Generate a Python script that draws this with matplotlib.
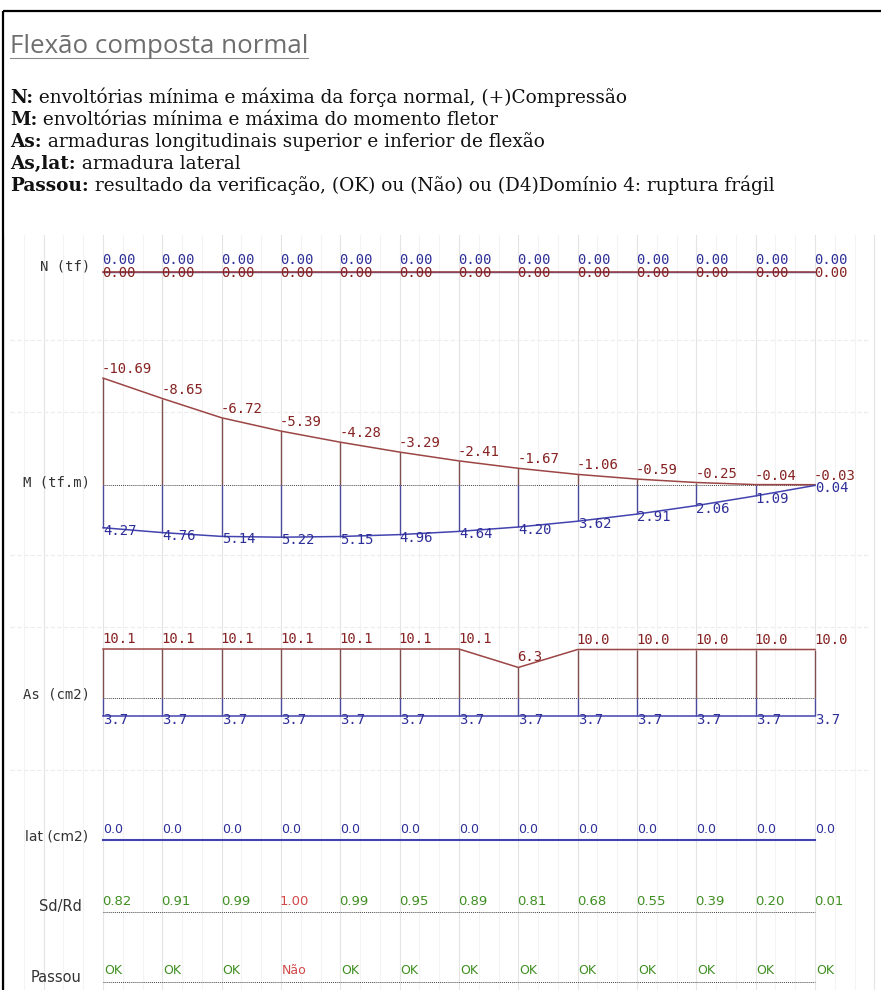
import matplotlib
matplotlib.use('Agg')
import matplotlib.pyplot as plt
import numpy as np

# Dimensões da figura (px)
W, H = 881, 990
DPI = 100
PT = 72 / DPI  # px -> pontos

# Dados por seção (13 seções ao longo da viga)
estacoes = np.arange(13)
n_max = [0.00, 0.00, 0.00, 0.00, 0.00, 0.00, 0.00, 0.00, 0.00, 0.00, 0.00, 0.00, 0.00]
n_min = [0.00, 0.00, 0.00, 0.00, 0.00, 0.00, 0.00, 0.00, 0.00, 0.00, 0.00, 0.00, 0.00]
m_neg = [-10.69, -8.65, -6.72, -5.39, -4.28, -3.29, -2.41, -1.67, -1.06, -0.59, -0.25, -0.04, -0.03]
m_pos = [4.27, 4.76, 5.14, 5.22, 5.15, 4.96, 4.64, 4.20, 3.62, 2.91, 2.06, 1.09, 0.04]
as_sup = [10.1, 10.1, 10.1, 10.1, 10.1, 10.1, 10.1, 6.3, 10.0, 10.0, 10.0, 10.0, 10.0]
as_inf = [3.7, 3.7, 3.7, 3.7, 3.7, 3.7, 3.7, 3.7, 3.7, 3.7, 3.7, 3.7, 3.7]
as_lat = [0.0, 0.0, 0.0, 0.0, 0.0, 0.0, 0.0, 0.0, 0.0, 0.0, 0.0, 0.0, 0.0]
sd_rd = [0.82, 0.91, 0.99, 1.00, 0.99, 0.95, 0.89, 0.81, 0.68, 0.55, 0.39, 0.20, 0.01]
passou = ['OK', 'OK', 'OK', 'Não', 'OK', 'OK', 'OK', 'OK', 'OK', 'OK', 'OK', 'OK', 'OK']

titulo = 'Flexão composta normal'
legenda = [
    ('N:', ' envoltórias mínima e máxima da força normal, (+)Compressão'),
    ('M:', ' envoltórias mínima e máxima do momento fletor'),
    ('As:', ' armaduras longitudinais superior e inferior de flexão'),
    ('As,lat:', ' armadura lateral'),
    ('Passou:', ' resultado da verificação, (OK) ou (Não) ou (D4)Domínio 4: ruptura frágil'),
]

# Cores
VERM = '#9c4545'
VERM_TXT = '#862222'
AZUL = '#4343b0'
AZUL_TXT = '#2e2e99'
VERDE = '#3f8f22'
VERM_CLARO = '#d04848'
MONO = 'DejaVu Sans Mono'

# posição horizontal das seções em px
X0 = 103
DX = 712 / 12

fig = plt.figure(figsize=(W / DPI, H / DPI), dpi=DPI)
fig.patch.set_facecolor('white')
renderer = fig.canvas.get_renderer()


def eixo_linha(y_top, y_bot, y_zero, px_unid, z=3):
    # valor v fica em y_zero + v*px_unid (px, para baixo)
    ax = fig.add_axes([0, 1 - y_bot / H, 1, (y_bot - y_top) / H])
    ax.set_xlim(-X0 / DX, (W - X0) / DX)
    ax.set_ylim((y_bot - y_zero) / px_unid, -(y_zero - y_top) / px_unid)
    ax.axis('off')
    ax.set_zorder(z)
    return ax


def rotulo(ax, x, y, txt, cor, dy_px, dx_px=0, fam=MONO, tam=10):
    ax.annotate(txt, (x, y), xytext=(dx_px * PT, -dy_px * PT), textcoords='offset points',
                ha='left', va='baseline', color=cor, fontsize=tam, family=fam,
                annotation_clip=False)


def linha_zero(ax):
    ax.hlines(0, estacoes[0], estacoes[-1], colors='#444444', linestyles=(0, (1, 1)), lw=0.7)


# Grade de fundo suave (atrás de tudo)
grade = eixo_linha(235, H, 600, 1, z=0)
for i in np.arange(-2, 14):
    grade.axvline(i, color='#e4e4e4', lw=0.8, zorder=0)
    grade.axvline(i + 1 / 3, color='#f3f3f3', lw=0.8, zorder=0)
    grade.axvline(i + 2 / 3, color='#f3f3f3', lw=0.8, zorder=0)

# Eixo de fundo em coordenadas de pixel (moldura, textos)
fundo = fig.add_axes([0, 0, 1, 1])
fundo.set_xlim(0, W)
fundo.set_ylim(H, 0)
fundo.axis('off')
fundo.set_zorder(1)

for yy in [340, 412, 555, 627, 770]:
    fundo.plot([10, 870], [yy, yy], color='#ececec', lw=0.8, ls=(0, (4, 2)), zorder=0)

# Moldura
fundo.plot([3, 3], [11, H], color='black', lw=1.6, solid_capstyle='butt')
fundo.plot([3, W], [11, 11], color='black', lw=1.6, solid_capstyle='butt')

# Título sublinhado
t = fundo.text(10, 53, titulo, fontsize=10, family='Open Sans', color='#6e6e6e', va='baseline')
t.set_fontsize(10 * 297 / t.get_window_extent(renderer).width)
larg = t.get_window_extent(renderer).width
fundo.plot([10, 10 + larg], [58, 58], color='#8a8a8a', lw=0.8)

# Legenda (chave em negrito + descrição)
tam_leg = 13.3
y_leg = 103
for chave, desc in legenda:
    t1 = fundo.text(10, y_leg, chave, fontsize=tam_leg, family='DejaVu Serif',
                    weight='bold', color='#111111', va='baseline')
    w1 = t1.get_window_extent(renderer).width
    fundo.text(10 + w1, y_leg, desc, fontsize=tam_leg, family='DejaVu Serif',
               color='#111111', va='baseline')
    y_leg += 22

# Rótulos das linhas
fundo.text(90, 267, 'N (tf)', family=MONO, fontsize=10, ha='right', va='center', color='#333333')
fundo.text(90, 482, 'M (tf.m)', family=MONO, fontsize=10, ha='right', va='center', color='#333333')
fundo.text(90, 694, 'As (cm2)', family=MONO, fontsize=10, ha='right', va='center', color='#333333')
fundo.text(88, 837, 'lat (cm2)', family='DejaVu Sans', fontsize=10, ha='right', va='center', color='#333333')
fundo.text(82, 907, 'Sd/Rd', family='DejaVu Sans', fontsize=10.5, ha='right', va='center', color='#333333')
fundo.text(82, 978, 'Passou', family='DejaVu Sans', fontsize=10.5, ha='right', va='center', color='#333333')

# N
ax_n = eixo_linha(240, 300, 272, 1)
linha_zero(ax_n)
ax_n.plot(estacoes, n_max, color=AZUL, lw=1.0)
ax_n.plot(estacoes, n_min, color=VERM, lw=1.2)
for i in estacoes:
    rotulo(ax_n, i, n_max[i], f'{n_max[i]:.2f}', AZUL_TXT, -8, -1)
    rotulo(ax_n, i, n_min[i], f'{n_min[i]:.2f}', VERM_TXT, 5, -1)

# M
ax_m = eixo_linha(340, 600, 485, 10)
linha_zero(ax_m)
ax_m.vlines(estacoes, m_neg, 0, color='#7e4f4f', lw=1.0)
ax_m.vlines(estacoes, 0, m_pos, color='#4b4b9e', lw=1.0)
ax_m.plot(estacoes, m_neg, color=VERM, lw=1.1)
ax_m.plot(estacoes, m_pos, color=AZUL, lw=1.1)
for i in estacoes:
    rotulo(ax_m, i, m_neg[i], f'{m_neg[i]:.2f}', VERM_TXT, -5, -1)
    rotulo(ax_m, i, m_pos[i], f'{m_pos[i]:.2f}', AZUL_TXT, 7, 0)

# As (superior para cima, inferior para baixo)
ax_as = eixo_linha(600, 760, 698, 4.85)
linha_zero(ax_as)
sup = [-v for v in as_sup]
ax_as.vlines(estacoes, sup, 0, color='#7e4f4f', lw=1.0)
ax_as.vlines(estacoes, 0, as_inf, color='#4b4b9e', lw=1.0)
ax_as.plot(estacoes, sup, color=VERM, lw=1.1)
ax_as.plot(estacoes, as_inf, color=AZUL, lw=1.1)
for i in estacoes:
    rotulo(ax_as, i, sup[i], f'{as_sup[i]:.1f}', VERM_TXT, -6, -1)
    rotulo(ax_as, i, as_inf[i], f'{as_inf[i]:.1f}', AZUL_TXT, 8, 0)

# As,lat
ax_lat = eixo_linha(800, 860, 840, 1)
ax_lat.plot(estacoes, as_lat, color=AZUL, lw=1.5)
for i in estacoes:
    rotulo(ax_lat, i, as_lat[i], f'{as_lat[i]:.1f}', AZUL_TXT, -7, 0, fam='DejaVu Sans', tam=9)

# Sd/Rd
ax_sd = eixo_linha(870, 930, 912, 1)
linha_zero(ax_sd)
for i in estacoes:
    cor = VERM_CLARO if sd_rd[i] >= 1.0 else VERDE
    rotulo(ax_sd, i, 0, f'{sd_rd[i]:.2f}', cor, -7, -1, fam='DejaVu Sans', tam=9.5)

# Passou
ax_p = eixo_linha(940, H, 982, 1)
linha_zero(ax_p)
for i in estacoes:
    cor = VERM_CLARO if passou[i] == 'Não' else VERDE
    rotulo(ax_p, i, 0, passou[i], cor, -8, 1, fam='DejaVu Sans', tam=9)

fig.savefig('out.png', dpi=DPI, facecolor='white')
plt.close()
